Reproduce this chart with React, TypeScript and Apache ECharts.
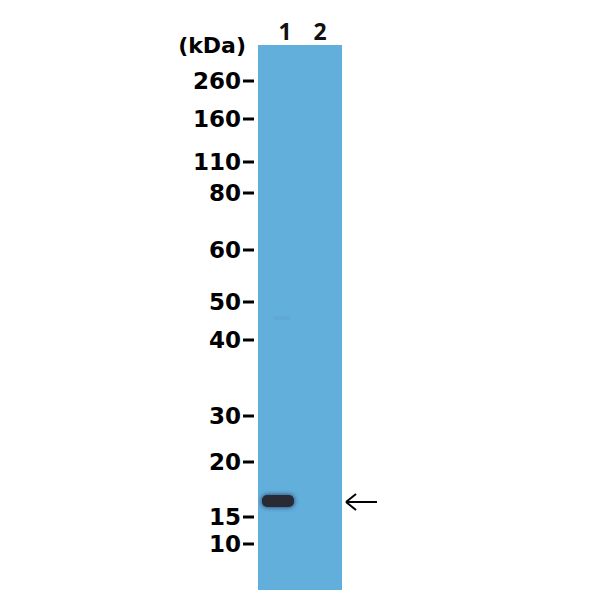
import React, { useEffect, useRef } from 'react';
import * as echarts from 'echarts';

// marker ladder: kDa label and migration distance from the top of the membrane
const markerLabels = ['260', '160', '110', '80', '60', '50', '40', '30', '20', '15', '10'];
const markerPositions = [36, 74, 117, 148, 205, 257, 295, 371, 417, 472, 499];

// lanes
const laneLabels = ['1', '2'];
const laneLabelPositions = [27, 62];

// detected bands: [x within membrane, migration distance, intensity]
const bands: number[][] = [
    [20, 456, 1],
    [24, 273, 0.05],
];
const arrowBandPosition = 456;

const MEMBRANE_WIDTH = 84;
const MEMBRANE_HEIGHT = 545;

export default function App(): JSX.Element {
    const chartRef = useRef<HTMLDivElement>(null);

    useEffect(() => {
        document.body.style.margin = '0';
        if (chartRef.current === null) return;
        const chart = echarts.init(chartRef.current, undefined, { renderer: 'svg' });

        const kdaTitle = {
            type: 'text',
            right: 354,
            top: 34,
            style: { text: '(kDa)', fill: '#000', font: 'bold 22px "DejaVu Sans"' },
        };

        const option: echarts.EChartsOption = {
            animation: false,
            backgroundColor: '#ffffff',
            grid: {
                left: 258,
                top: 45,
                width: MEMBRANE_WIDTH,
                height: MEMBRANE_HEIGHT,
                show: true,
                backgroundColor: '#62afdb',
                borderWidth: 0,
            },
            xAxis: {
                type: 'value',
                position: 'top',
                min: 0,
                max: MEMBRANE_WIDTH,
                splitLine: { show: false },
                axisLine: { show: false },
                axisTick: { show: false },
                axisLabel: {
                    customValues: laneLabelPositions,
                    formatter: (v: number) => laneLabels[laneLabelPositions.indexOf(v)] ?? '',
                    margin: 3,
                    color: '#111',
                    fontFamily: 'Open Sans',
                    fontWeight: 'bold',
                    fontSize: 23,
                },
            },
            yAxis: {
                type: 'value',
                inverse: true,
                min: 0,
                max: MEMBRANE_HEIGHT,
                splitLine: { show: false },
                axisLine: { show: false },
                axisTick: { show: false },
                axisLabel: {
                    customValues: markerPositions,
                    // label followed by the black marker dash
                    formatter: (v: number) => {
                        const t = markerLabels[markerPositions.indexOf(v)];
                        return t === undefined ? '' : `{t|${t}}{g|}{d|}`;
                    },
                    margin: 4,
                    rich: {
                        t: {
                            color: '#000',
                            fontFamily: 'DejaVu Sans',
                            fontWeight: 'bold',
                            fontSize: 23,
                            verticalAlign: 'middle',
                        },
                        g: { width: 2, height: 3 },
                        d: { width: 11, height: 3, backgroundColor: '#000', verticalAlign: 'middle' },
                    },
                },
            },
            graphic: [kdaTitle],
            series: [
                {
                    type: 'custom',
                    data: bands,
                    clip: true,
                    renderItem: (params: any, api: any) => {
                        const c = api.coord([api.value(0), api.value(1)]);
                        const a = api.value(2);
                        const strong = a > 0.5;
                        const w = strong ? 32 : 18;
                        const h = strong ? 12 : 4;
                        return {
                            type: 'rect',
                            shape: { x: c[0] - w / 2, y: c[1] - h / 2, width: w, height: h, r: strong ? 5 : 2 },
                            style: {
                                fill: strong ? '#2a2a36' : 'rgba(40,60,90,' + a + ')',
                                shadowBlur: strong ? 5 : 0,
                                shadowColor: 'rgba(25,25,40,0.7)',
                            },
                        };
                    },
                },
            ],
        };
        chart.setOption(option);

        // arrow pointing at the detected band
        const p = chart.convertToPixel({ gridIndex: 0 }, [MEMBRANE_WIDTH, arrowBandPosition]) as number[];
        const x0 = p[0] + 4;
        const y0 = p[1] + 1;
        const stroke = { stroke: '#000', lineWidth: 2 };
        chart.setOption({
            graphic: [
                kdaTitle,
                {
                    type: 'group',
                    children: [
                        { type: 'line', shape: { x1: x0, y1: y0, x2: x0 + 31, y2: y0 }, style: stroke },
                        { type: 'line', shape: { x1: x0, y1: y0, x2: x0 + 10, y2: y0 - 8 }, style: stroke },
                        { type: 'line', shape: { x1: x0, y1: y0, x2: x0 + 10, y2: y0 + 8 }, style: stroke },
                    ],
                },
            ],
        }, { replaceMerge: ['graphic'] });

        return () => {
            chart.dispose();
        };
    }, []);

    return <div ref={chartRef} style={{ width: 600, height: 600 }} />;
}
